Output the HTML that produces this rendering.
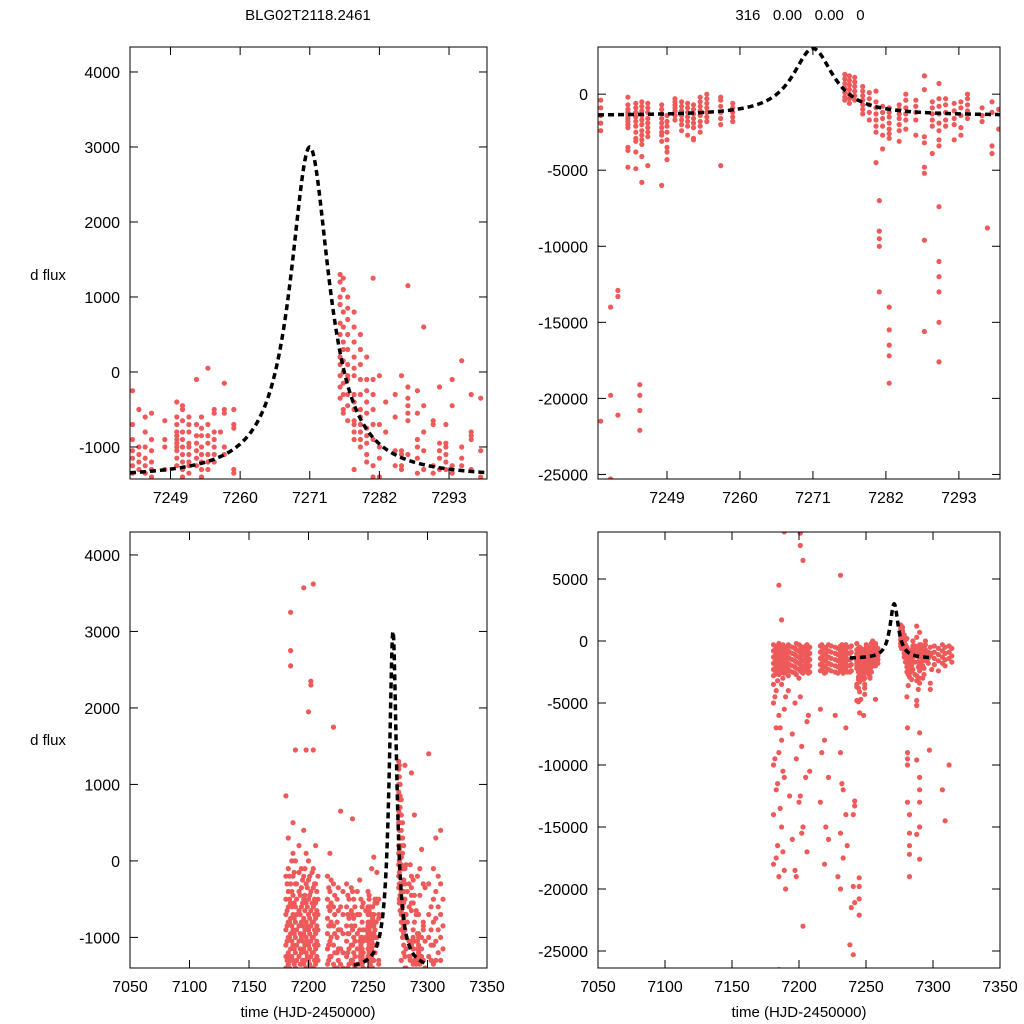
<!DOCTYPE html>
<html><head><meta charset="utf-8"><style>
body{margin:0;background:#fff}
svg{display:block;font-family:"Liberation Sans",sans-serif}
</style></head><body>
<svg id="fig" width="1024" height="1024" viewBox="0 0 1024 1024" xmlns="http://www.w3.org/2000/svg">
<rect width="1024" height="1024" fill="#fff"/>
<text x="308" y="20" font-size="15" text-anchor="middle">BLG02T2118.2461</text>
<text x="800" y="20" font-size="15" text-anchor="middle" xml:space="preserve">316   0.00   0.00   0</text>
<text x="48" y="280" font-size="15" text-anchor="middle">d flux</text>
<text x="48" y="745" font-size="15" text-anchor="middle">d flux</text>
<text x="308" y="1017" font-size="15" text-anchor="middle">time (HJD-2450000)</text>
<text x="799" y="1017" font-size="15" text-anchor="middle">time (HJD-2450000)</text>
</svg>
<script>
// Dataset A (left panels): nights and flux values per night
const nightsA = [7181,7183,7185,7187,7189,7192,7194,7196,7198,7200,7202,7204,7206,7208,7216,7218,7221,7224,7227,7232,7234,7237,7239,7241,
7243.0,7244.0,7245.0,7246.0,7248.1,7250.0,7250.9,7251.9,7253.1,7253.9,7254.9,7255.9,7256.9,7257.5,7259.0,
7275.8,7276.3,7277.0,7278.0,7279.0,7280.0,7281.0,7282.0,7283.0,7284.5,7285.5,7286.5,7288.0,7289.0,7290.5,7291.5,7292.5,7293.5,7295.0,7296.5,7298.0,
7301,7303,7305,7307,7309,7311,7313,
7182,7184,7186,7188,7190,7193,7195,7197,7199,7201,7203,7205,7207,7217,7219,7222,7225,7229,7233,7236,7238];
const fluxA = [
[850,-200,-500,-700,-900,-1100,-1250,-1400],
[300,-100,-400,-600,-800,-1000,-1200,-1350],
[3250,2750,2550,-300,-550,-750,-950,-1150,-1300],
[500,100,-200,-450,-700,-900,-1100,-1300],
[1450,0,-300,-600,-800,-1000,-1200,-1400],
[200,-150,-400,-650,-850,-1050,-1250],
[-100,-350,-600,-800,-1000,-1200,-1350],
[3570,400,-200,-500,-750,-950,-1150,-1350],
[1450,100,-300,-550,-800,-1000,-1200,-1400],
[1950,0,-250,-500,-700,-900,-1100,-1300],
[2350,2300,-400,-650,-850,-1050,-1250],
[3620,1450,-100,-350,-600,-800,-1000,-1200,-1400],
[200,-300,-550,-750,-950,-1150,-1350],
[-200,-500,-700,-900,-1100,-1300],
[-200,-500,-750,-950,-1150,-1350],
[100,-400,-650,-850,-1050,-1250],
[1750,-300,-600,-850,-1100,-1350],
[-500,-800,-1000,-1200,-1400],
[650,-600,-900,-1150,-1350],
[-300,-600,-850,-1050,-1250],
[-500,-750,-950,-1150,-1350],
[550,-400,-700,-900,-1100,-1300],
[-600,-850,-1050,-1250,-1400],
[-400,-700,-950,-1150,-1350],
[-250,-700,-900,-1050,-1150,-1250,-1350],
[-500,-1000,-1100,-1200,-1300],
[-600,-800,-1000,-1150,-1250,-1350],
[-550,-900,-1050,-1200,-1300,-1400],
[-650,-900,-1000,-1300],
[-400,-600,-700,-800,-850,-900,-950,-1000,-1050,-1150,-1250],
[-450,-500,-650,-800,-900,-1000,-1100,-1200,-1300,-1400],
[-600,-700,-800,-950,-1000,-1100,-1200,-1250,-1350],
[-100,-700,-850,-950,-1050,-1150,-1250],
[-600,-750,-850,-1000,-1100,-1200,-1300,-1400],
[50,-700,-850,-950,-1100,-1200,-1300],
[-500,-550,-800,-900,-1000,-1100,-1200],
[-800],
[-150,-500,-550,-1000,-1100],
[-500,-700,-750,-1300,-1350],
[1300,1200,1000,900,650,500,200,100,-50,-200,-350],
[1250,1100,800,600,400,300,150,0,-150,-300,-500,-550],
[1000,850,700,500,300,100,-50,-100,-300,-450,-650],
[800,600,400,200,50,-50,-300,-400,-500,-650,-700,-800,-900,-1300],
[500,300,100,-100,-300,-500,-600,-700,-800,-900,-1000],
[200,-100,-250,-400,-550,-750,-850,-950,-1100,-1200],
[1250,-100,-300,-500,-700,-900,-1250,-1400],
[-50,-700,-1000,-1150,-1400],
[-400,-800],
[-300,-600,-1050,-1250],
[-50,-1050,-1100,-1250,-1300],
[1150,-200,-350,-450,-550,-650,-1100],
[-250,-550,-900,-1000,-1150,-1350],
[600,-450,-800,-1050,-1300],
[-650,-700,-1250,-1350],
[-200,-950,-1050,-1150,-1300],
[-700,-950,-1000,-1100,-1200,-1300],
[-100,-450,-1250,-1350],
[150,-1000,-1150,-1250],
[-300,-800,-850,-900,-1300],
[-350,-1050,-1400],
[1400,-300,-700,-1000,-1250],
[-600,-900,-1100,-1300],
[-100,-500,-800,-1100,-1350],
[300,-400,-750,-1050,-1300],
[-200,-600,-900,-1200],
[400,-300,-700,-1000,-1300],
[-500,-850,-1150],
[-300,-650,-850,-1050,-1300],
[-200,-500,-800,-1000,-1250,-1400],
[0,-400,-600,-850,-1050,-1250],
[-150,-550,-750,-950,-1150,-1350],
[-300,-500,-700,-900,-1100,-1300],
[-450,-700,-950,-1150,-1350],
[-250,-550,-850,-1050,-1300],
[-100,-450,-650,-900,-1100,-1300],
[-350,-600,-850,-1050,-1250,-1400],
[-200,-450,-750,-950,-1150,-1350],
[-150,-550,-800,-1000,-1200,-1400],
[-300,-500,-700,-900,-1100,-1300],
[-400,-650,-850,-1050,-1250],
[-350,-600,-850,-1100,-1300],
[-250,-550,-800,-1000,-1250],
[-450,-700,-950,-1200,-1400],
[-350,-650,-900,-1150,-1300],
[-400,-700,-950,-1200,-1400],
[-450,-700,-950,-1200,-1400],
[-350,-650,-850,-1100,-1300],
[-500,-750,-1000,-1200,-1350]];

// Dataset B (right panels)
const nightsB = [7181,7183,7185,7187,7189,7192,7195,7198,7201,7203,7206,7208,7216,7219,7222,7227,7231,7233,7235,7238,7240.5,7241.6,
7243.1,7244.3,7244.9,7245.2,7246.1,7248.2,7249,7250.2,7251.2,7252.1,7253,7254,7255,7257.1,7258.9,
7275.8,7276.5,7277.3,7278.5,7279.5,7280.5,7281,7281.5,7282.5,7284,7285,7286.5,7287.8,7289,7290,7291,7292.3,7293.3,7294.3,7296.5,7297.3,7298,7299,
7301,7304,7307,7309,7312,7314,
7182,7184,7186,7188,7190,7193,7197,7200,7202,7205,7207,7217,7220,7224,7229,7232,7236,7239];
const fluxB = [
[-300,-800,-1300,-1800,-2300,-2800,-3500,-5000,-10000,-14000,-18000],
[-500,-1000,-1500,-2000,-2500,-4000,-7000,-12000,-17500],
[4500,-200,-700,-1200,-1700,-2200,-2700,-6000,-9000,-19000,-26500],
[1700,-400,-900,-1400,-1900,-2400,-3500,-8000,-15000],
[8800,-600,-1100,-1600,-2100,-2600,-5500,-11000,-18500],
[-300,-800,-1300,-1800,-2300,-2800,-4000],
[-500,-1000,-1500,-2000,-2500,-7500,-16000],
[-200,-700,-1200,-1700,-2200,-2700,-9500,-19000],
[8700,7700,-400,-900,-1400,-1900,-2400,-4500,-12500],
[6500,-600,-1100,-1600,-2100,-2600,-15000,-23000],
[-300,-800,-1300,-1800,-2300,-6500,-17000],
[-500,-1000,-1500,-2000,-2500,-10500],
[-400,-900,-1400,-1900,-2400,-5500,-13000],
[-600,-1100,-1600,-2100,-2600,-8000,-18000],
[-300,-800,-1300,-1800,-2300,-11000,-16000],
[-500,-1000,-1500,-2000,-2500,-6000],
[5300,-400,-900,-1400,-1900,-2400,-9000,-15500,-20000],
[-600,-1100,-1600,-2100,-2600,-12000,-17500],
[-300,-800,-1300,-1800,-2300,-7000,-14000],
[-500,-1000,-1500,-2000,-2500,-24500],
[-14000,-19800,-25300],
[-12900,-13300,-21100],
[-200,-700,-1000,-1200,-1400,-1600,-1800,-2000,-2200,-3500,-3700,-4800],
[-600,-900,-1200,-1500,-1800,-2100,-2500,-2900,-3100,-3800,-4900],
[-19100,-19800,-20800,-22100],
[-500,-800,-1100,-1400,-1700,-2000,-2400,-2700,-3000,-3300,-4100,-5800],
[-600,-900,-1200,-1600,-1900,-2200,-2500,-2800,-4700],
[-700,-1000,-1300,-1600,-1900,-2200,-2500,-2700,-3100,-6000],
[-1400,-1800,-2100,-2500,-3000,-3500,-3800,-4300],
[-300,-500,-700,-900,-1100,-1400,-1700],
[-500,-800,-1100,-1400,-1700,-2000,-2400],
[-600,-900,-1200,-1500,-1800,-2100,-2700],
[-700,-1000,-1300,-1600,-1900,-2200,-2900,-3000],
[-200,-500,-800,-1100,-1400,-1800,-2100,-2500],
[0,-300,-600,-900,-1200,-1500,-1800],
[-200,-400,-800,-1200,-1600,-2000,-4700],
[-600,-900,-1200,-1500,-1800],
[1300,1000,700,400,100,-200,-400],
[1200,900,600,300,0,-300,-600],
[1100,800,500,200,-100,-400],
[500,200,-100,-400,-700,-1000,-1300],
[100,-300,-700,-1200,-1700],
[200,-500,-900,-1300,-1700,-2100,-2500,-4500],
[-7000,-9000,-9500,-10000,-13000],
[-800,-1200,-1600,-2100,-2700,-3600],
[-900,-1200,-1500,-1900,-2300,-2600,-2900,-14000,-15500,-16500,-17200,-19000],
[-700,-1000,-1300,-1600,-2000,-2400,-3100],
[0,-400,-900,-1300,-1700,-2300],
[-400,-800,-1200,-1700,-2700],
[1200,300,-2800,-3200,-4800,-5200,-9600,-15600],
[-500,-900,-1300,-1700,-2100,-3900],
[700,-300,-800,-1300,-1900,-2400,-3000,-3400,-7400,-11000,-12000,-13000,-15000,-17600],
[-300,-700,-1200,-1700,-2100],
[-600,-1100,-1600,-2000,-3000],
[-500,-900,-1400,-2200,-2700],
[0,-300,-700,-1100,-1600],
[-900,-1400,-1800],
[-8800],
[-500,-1200,-3400,-3900],
[-1000,-2300],
[-400,-900,-1400,-1900],
[-600,-1100,-1600,-2400],
[-300,-800,-1300,-1800,-12000],
[-500,-1000,-1500,-2000,-14500],
[-400,-900,-1400,-10000],
[-600,-1200,-1700],
[-700,-1200,-1700,-2200,-2700,-4500,-9500],
[-400,-900,-1400,-1900,-2400,-3200,-11500,-16500],
[-600,-1100,-1600,-2100,-2600,-7000,-13500],
[-300,-800,-1300,-1800,-2300,-3000,-10500,-17000],
[-500,-1000,-1500,-2000,-2500,-4500,-20000],
[-400,-900,-1400,-1900,-2400,-12500],
[-600,-1100,-1600,-2100,-2600,-5000,-18500],
[-300,-800,-1300,-1800,-2300,-3000,-13000],
[-500,-1000,-1500,-2000,-2500,-8500,-15500],
[-400,-900,-1400,-1900,-2400,-11000],
[-600,-1100,-1600,-2100,-2600,-6000],
[-300,-800,-1300,-1800,-2300,-9000],
[-500,-1000,-1500,-2000,-2500,-15000],
[-400,-900,-1400,-1900,-2400],
[-600,-1100,-1600,-2100,-2600,-19000],
[-300,-800,-1300,-1800,-2300,-11500],
[-500,-1000,-1500,-2000,-2500,-16500],
[-400,-900,-1400,-1900,-2400,-21500]];

// Model curve parameters
const modelBase = -1420, modelAmp = 4420, modelT0 = 7271, modelW = 3.75;
const modelTStart = 7238, modelTEnd = 7300;

// Tick labels
const ticksXZoom = [7249,7260,7271,7282,7293];
const ticksXFull = [7050,7100,7150,7200,7250,7300,7350];
const ticksYLeftTop = [4000,3000,2000,1000,0,-1000];
const ticksYLeftBot = [4000,3000,2000,1000,0,-1000];
const ticksYRightTop = [0,-5000,-10000,-15000,-20000,-25000];
const ticksYRightBot = [5000,0,-5000,-10000,-15000,-20000,-25000];

const NS='http://www.w3.org/2000/svg';
const svg=document.getElementById('fig');
function mk(tag,attrs,parent){const e=document.createElementNS(NS,tag);for(const k in attrs)e.setAttribute(k,attrs[k]);(parent||svg).appendChild(e);return e;}

const panels=[
 {id:'top-left',x0:130,x1:487,y0:47,y1:479,tmin:7242.6,tmax:7299,fmin:-1427,fmax:4333,nights:nightsA,flux:fluxA,xt:ticksXZoom,yt:ticksYLeftTop},
 {id:'top-right',x0:598,x1:1000,y0:47,y1:479,tmin:7238.6,tmax:7299.2,fmin:-25300,fmax:3100,nights:nightsB,flux:fluxB,xt:ticksXZoom,yt:ticksYRightTop},
 {id:'bottom-left',x0:130,x1:487,y0:532,y1:968,tmin:7050,tmax:7350,fmin:-1400,fmax:4300,nights:nightsA,flux:fluxA,xt:ticksXFull,yt:ticksYLeftBot},
 {id:'bottom-right',x0:598,x1:1000,y0:532,y1:968,tmin:7050,tmax:7350,fmin:-26370,fmax:8790,nights:nightsB,flux:fluxB,xt:ticksXFull,yt:ticksYRightBot}
];

panels.forEach((p,pi)=>{
  const sx=t=>p.x0+(t-p.tmin)/(p.tmax-p.tmin)*(p.x1-p.x0);
  const sy=f=>p.y1-(f-p.fmin)/(p.fmax-p.fmin)*(p.y1-p.y0);
  const g=mk('g',{});
  
  
  const cp=mk('clipPath',{id:'clip'+pi},g);
  mk('rect',{x:p.x0,y:p.y0,width:p.x1-p.x0,height:p.y1-p.y0},cp);
  const pts=mk('g',{'clip-path':'url(#clip'+pi+')',fill:'#ee5a5a'},g);
  
  
  p.nights.forEach((t,i)=>{
    p.flux[i].forEach(f=>{
      const c=mk('circle',{cx:sx(t).toFixed(1),cy:sy(f).toFixed(1),r:2.6},pts);
      
      
    });
  });
  // model curve
  const ta=Math.max(p.tmin,modelTStart), tb=Math.min(p.tmax,modelTEnd);
  let d='';const N=600;
  for(let k=0;k<=N;k++){const t=ta+(tb-ta)*k/N;const f=modelBase+modelAmp/(1+Math.pow((t-modelT0)/modelW,2));d+=(k?'L':'M')+sx(t).toFixed(2)+' '+sy(f).toFixed(2);}
  const cv=mk('path',{d:d,fill:'none',stroke:'#000','stroke-width':3.5,'stroke-dasharray':'6 4','clip-path':'url(#clip'+pi+')'},g);
  
  
  // frame
  const fr=mk('rect',{x:p.x0,y:p.y0,width:p.x1-p.x0,height:p.y1-p.y0,fill:'none',stroke:'#000','stroke-width':1},g);
  
  
  p.xt.forEach(v=>{
    const x=sx(v);
    mk('line',{x1:x,x2:x,y1:p.y1,y2:p.y1-8,stroke:'#000'},g);
    mk('line',{x1:x,x2:x,y1:p.y0,y2:p.y0+8,stroke:'#000'},g);
    const tx=mk('text',{x:x,y:p.y1+24,'font-size':16,'text-anchor':'middle'},g);
    tx.textContent=v;
    
    
  });
  p.yt.forEach(v=>{
    const y=sy(v);
    mk('line',{x1:p.x0,x2:p.x0+8,y1:y,y2:y,stroke:'#000'},g);
    mk('line',{x1:p.x1,x2:p.x1-8,y1:y,y2:y,stroke:'#000'},g);
    const ty=mk('text',{x:p.x0-10,y:y+6,'font-size':16,'text-anchor':'end'},g);
    ty.textContent=v;
    
    
  });
});
</script>
</body></html>
